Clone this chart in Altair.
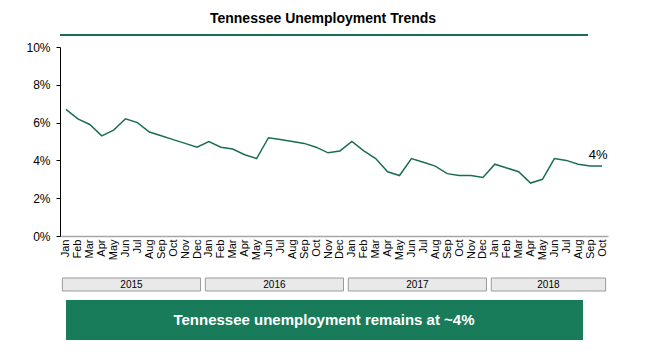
import altair as alt
import pandas as pd

FONT = "Liberation Sans"
LINE_GREEN = "#1b6e52"
BOX_GREEN = "#187c5a"

title_text = "Tennessee Unemployment Trends"
banner_text = "Tennessee unemployment remains at ~4%"

month_names = ["Jan", "Feb", "Mar", "Apr", "May", "Jun",
               "Jul", "Aug", "Sep", "Oct", "Nov", "Dec"]
years = ["2015", "2016", "2017", "2018"]
months_per_year = [12, 12, 12, 10]

rate = [6.7, 6.2, 5.9, 5.3, 5.6, 6.2, 6.0, 5.5, 5.3, 5.1, 4.9, 4.7,
        5.0, 4.7, 4.6, 4.3, 4.1, 5.2, 5.1, 5.0, 4.9, 4.7, 4.4, 4.5,
        5.0, 4.5, 4.1, 3.4, 3.2, 4.1, 3.9, 3.7, 3.3, 3.2, 3.2, 3.1,
        3.8, 3.6, 3.4, 2.8, 3.0, 4.1, 4.0, 3.8, 3.7, 3.7]

y_ticks = [0, 2, 4, 6, 8, 10]

n = len(rate)
df = pd.DataFrame({"idx": list(range(n)), "rate": rate})

starts, ends = [], []
k = 0
for m in months_per_year:
    starts.append(k)
    ends.append(k + m - 1)
    k += m
years_df = pd.DataFrame({"year": years, "first": starts, "last": ends})

W, H = 548, 189

month_list = "[" + ",".join("'%s'" % m for m in month_names) + "]"
xscale = alt.Scale(domain=[-0.5, n - 0.5], nice=False, zero=False)
yscale = alt.Scale(domain=[0, 10], nice=False)

xaxis = alt.Axis(values=list(range(n)),
                 labelExpr=month_list + "[datum.value % 12]",
                 labelAngle=-90, labelAlign="right",
                 labelBaseline="middle", labelFontSize=11,
                 labelFont=FONT, labelColor="#000",
                 labelPadding=3, ticks=False, grid=False,
                 domainColor="#a6a6a6", domainWidth=1.5,
                 labelOverlap=False, labelFlush=False, labelBound=False)
yaxis = alt.Axis(values=y_ticks, labelExpr="datum.value + '%'",
                 labelFontSize=12, labelFont=FONT,
                 labelColor="#000", tickColor="#000",
                 domainColor="#000", tickSize=4,
                 labelPadding=6, grid=False,
                 labelOverlap=False, labelFlush=False, labelBound=False)


def X(field):
    return alt.X(field, scale=xscale, axis=xaxis, title=None)


def Y(field):
    return alt.Y(field, scale=yscale, axis=yaxis, title=None)


line = alt.Chart(df).mark_line(color=LINE_GREEN, strokeWidth=1.5).encode(
    x=X("idx:Q"), y=Y("rate:Q"))

last_label = alt.Chart(df).transform_filter(
    alt.datum.idx == n - 1
).transform_calculate(
    lab="round(datum.rate) + '%'"
).mark_text(font=FONT, fontSize=13, dx=-4, dy=-11, color="#000").encode(
    x=X("idx:Q"), y=Y("rate:Q"), text="lab:N")

title = alt.Chart(pd.DataFrame({"t": [title_text]})).mark_text(
    font=FONT, fontSize=14, fontWeight="bold", color="#000"
).encode(text="t:N", x=alt.value(263), y=alt.value(-28))

title_rule = alt.Chart(pd.DataFrame({"a": [0]})).mark_rule(
    color=LINE_GREEN, strokeWidth=2
).encode(x=alt.value(0), x2=alt.value(528), y=alt.value(-12))

year_boxes = alt.Chart(years_df).transform_calculate(
    x0="datum.first - 0.5 + 0.2", x1="datum.last + 0.5 - 0.2"
).mark_rect(fill="#e9e9e9", stroke="#9a9a9a", strokeWidth=1).encode(
    x=X("x0:Q"), x2="x1:Q",
    y=alt.value(231), y2=alt.value(244))

year_text = alt.Chart(years_df).transform_calculate(
    xm="(datum.first + datum.last) / 2"
).mark_text(font=FONT, fontSize=10, color="#000").encode(
    x=X("xm:Q"), y=alt.value(238), text="year:N")

banner = alt.Chart(pd.DataFrame({"a": [0]})).mark_rect(fill=BOX_GREEN).encode(
    x=alt.value(6), x2=alt.value(523), y=alt.value(253), y2=alt.value(293))

banner_label = alt.Chart(pd.DataFrame({"t": [banner_text]})).mark_text(
    font=FONT, fontSize=15, fontWeight="bold", color="#ffffff"
).encode(text="t:N", x=alt.value(264), y=alt.value(273))

chart = alt.layer(
    line, last_label, title, title_rule, year_boxes, year_text,
    banner, banner_label
).properties(
    width=W, height=H,
    padding={"left": 52, "top": 39, "right": 30, "bottom": 110},
    autosize=alt.AutoSizeParams(type="none"),
    background="#ffffff"
).configure_view(stroke=None)

chart.save("out.html", embed_options={"renderer": "svg", "actions": False})
